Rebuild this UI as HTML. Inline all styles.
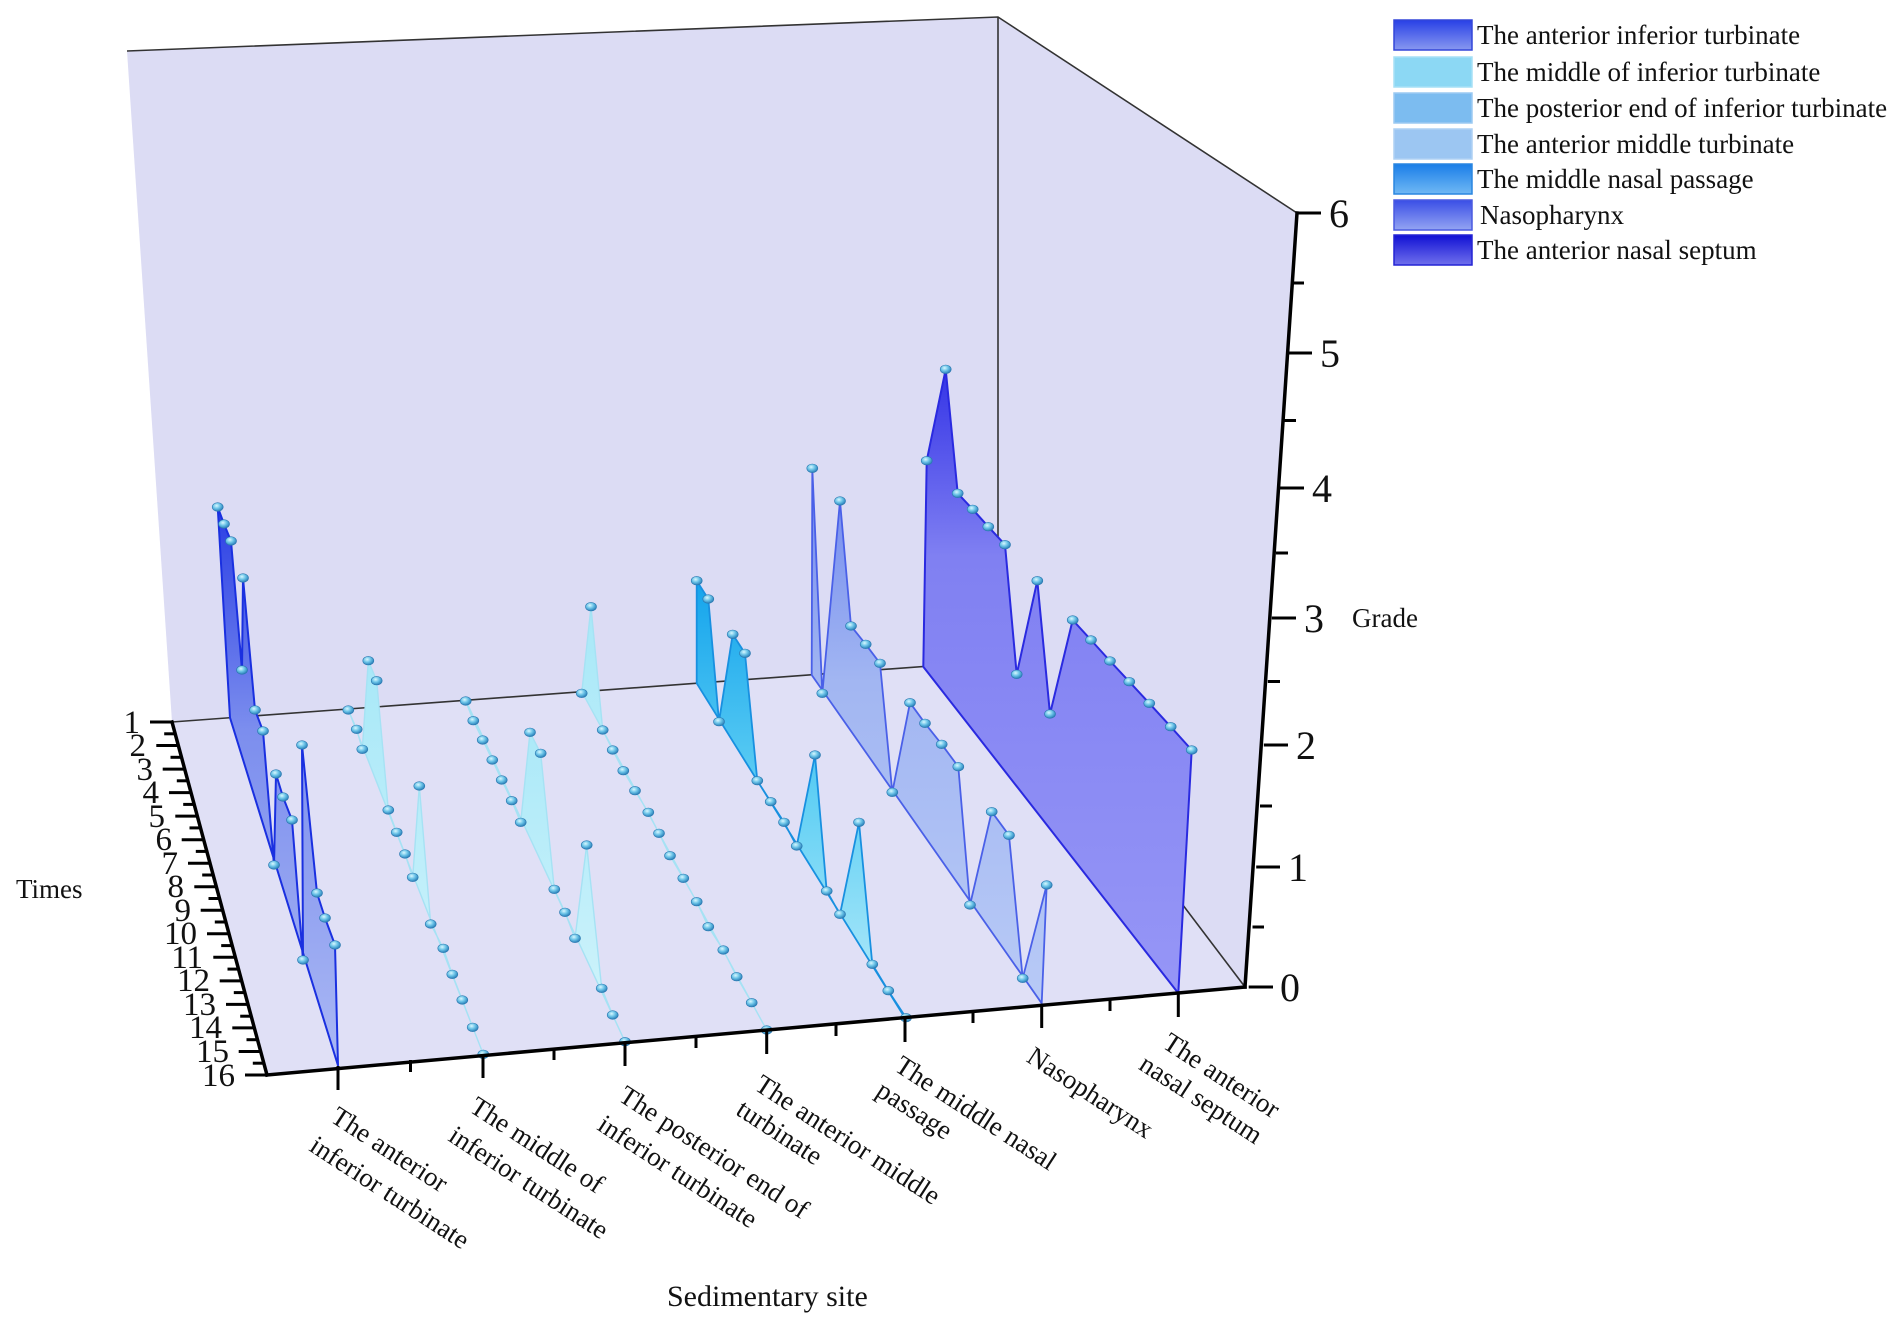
<!DOCTYPE html>
<html><head><meta charset="utf-8"><style>
html,body{margin:0;padding:0;background:#fff;}
svg{display:block;font-family:"Liberation Serif",serif;}
</style></head><body>
<svg width="1902" height="1325" viewBox="0 0 1902 1325" xmlns="http://www.w3.org/2000/svg">
<defs>
<radialGradient id="ball" cx="40%" cy="35%" r="65%"><stop offset="0" stop-color="#d8f8ff"/><stop offset="0.5" stop-color="#6cc4e8"/><stop offset="1" stop-color="#2a7fb8"/></radialGradient>
<linearGradient id="g1" x1="0" y1="0" x2="0" y2="1"><stop offset="0" stop-color="#2a3ee4"/><stop offset="0.4" stop-color="#7c8eee"/><stop offset="1" stop-color="#aab8f4"/></linearGradient>
<linearGradient id="g2" x1="0" y1="0" x2="0" y2="1"><stop offset="0" stop-color="#a8e8f8"/><stop offset="1" stop-color="#d2f4fb"/></linearGradient>
<linearGradient id="g5" x1="0" y1="0" x2="0" y2="1"><stop offset="0" stop-color="#14a4ec"/><stop offset="0.5" stop-color="#62d0f4"/><stop offset="1" stop-color="#b8ecfa"/></linearGradient>
<linearGradient id="g6" x1="0" y1="0" x2="0" y2="1"><stop offset="0" stop-color="#7088ee"/><stop offset="0.4" stop-color="#a2b6f2"/><stop offset="1" stop-color="#b8caf6"/></linearGradient>
<linearGradient id="g7" x1="0" y1="0" x2="0" y2="1"><stop offset="0" stop-color="#3434e6"/><stop offset="0.3" stop-color="#8080f2"/><stop offset="1" stop-color="#9696f6"/></linearGradient>
<linearGradient id="l1" x1="0" y1="0" x2="0" y2="1"><stop offset="0" stop-color="#2840e6"/><stop offset="1" stop-color="#8898f0"/></linearGradient>
<linearGradient id="l5" x1="0" y1="0" x2="0" y2="1"><stop offset="0" stop-color="#1a7ee8"/><stop offset="1" stop-color="#70b8f4"/></linearGradient>
<linearGradient id="l6" x1="0" y1="0" x2="0" y2="1"><stop offset="0" stop-color="#3a4ee6"/><stop offset="1" stop-color="#94a4f2"/></linearGradient>
<linearGradient id="l7" x1="0" y1="0" x2="0" y2="1"><stop offset="0" stop-color="#1010d4"/><stop offset="1" stop-color="#7070ec"/></linearGradient>
</defs>

<polygon points="127,51 998,17 998,661 172,722" fill="#dcdcf4"/>
<polygon points="998,17 1297,213 1245,987 998,661" fill="#dcdcf4"/>
<polygon points="172,722 998,661 1245,987 267,1075" fill="#e0e0f6"/>
<g stroke="#333" stroke-width="1.6" fill="none">
<polyline points="127,51 998,17 1297,213"/>
<line x1="998" y1="17" x2="998" y2="661"/>
<line x1="172" y1="722" x2="998" y2="661"/>
<line x1="998" y1="661" x2="1245" y2="987"/>
</g>

<g stroke="#2a2ae0" stroke-width="2" stroke-linejoin="round">
<polygon fill="url(#g7)" points="923.3,666.7 926.7,460.7 945.7,369.3 957.7,493.3 972.7,509.3 988.3,526.7 1005,544.7 1016.7,674.3 1037.3,580.7 1050,714 1072.7,620 1091,640 1110,661 1129.3,681.7 1149.3,703.3 1170.7,726.7 1191.7,750 1178.3,993.3"/>
</g>
<g stroke="#4a60e8" stroke-width="1.8" stroke-linejoin="round">
<polygon fill="url(#g6)" points="811.7,675 812.3,468.3 822.3,693.3 840,501 851,626 865.7,644.3 880,663.3 892.3,792.3 910,702.7 925,723.3 941.7,744.3 958.3,766.7 970,905 991.7,811.7 1009,835.3 1022.7,978.3 1046.7,885 1041.7,1003.3"/>
</g>
<g stroke="#1890e0" stroke-width="1.8" stroke-linejoin="round">
<polygon fill="url(#g5)" points="696.7,683.3 696.7,580.7 708.3,599 719,721.7 732.7,634.3 745,653.3 757.3,780.7 770.7,801.7 784,822.3 796.7,846 815,755 826.7,891 840,914.3 859,822.3 872.3,964.3 888.3,990.7 906,1017.7 905,1018"/>
</g>
<g stroke="#a6e2f4" stroke-width="1.4" stroke-linejoin="round">
<polygon fill="url(#g2)" points="581.7,691.6 581.7,693.3 591,606.7 602.7,730 612.7,750 623.3,770.7 635,790.7 648.3,812.3 659,833.3 670,855.7 683.3,878.3 696.7,901.7 708.3,926.7 723.3,950 736.7,976.7 751.7,1002.7 766.7,1030"/>
</g>
<g stroke="#a6e2f4" stroke-width="1.4" stroke-linejoin="round">
<polygon fill="url(#g2)" points="465.7,700.2 465.7,701 473.3,720.7 482.7,740 492.3,760 501.7,780 511.7,800.7 520.7,822.3 530,732.3 540.7,753.3 554.3,889.3 565,912.3 575,938.3 586.7,845 601.7,988.3 612.7,1015 625,1041.7"/>
</g>
<g stroke="#a6e2f4" stroke-width="1.4" stroke-linejoin="round">
<polygon fill="url(#g2)" points="348,709 348.3,710 356.7,729.3 362.3,749.3 368.3,660.7 376.7,680.7 388.3,810 396.7,832.3 405,854 412.7,877.3 419.3,786 430.7,924 443.3,948.3 452.3,974.3 462.3,1000 472.7,1027.3 483.3,1054.3"/>
</g>
<g stroke="#1a30e0" stroke-width="2" stroke-linejoin="round">
<polygon fill="url(#g1)" points="230,717.7 217.7,507 224,524 231,541 242,670 243,578 255,710 263,731 274,865 276,774 283,797 292,820 303,960 302,745 317,893 325,918 335,945 338,1065.5"/>
</g>

<g fill="url(#ball)" stroke="#2a78b0" stroke-width="0.6">
<ellipse cx="926.7" cy="460.7" rx="5.5" ry="4.3"/><ellipse cx="945.7" cy="369.3" rx="5.5" ry="4.3"/><ellipse cx="957.7" cy="493.3" rx="5.5" ry="4.3"/><ellipse cx="972.7" cy="509.3" rx="5.5" ry="4.3"/><ellipse cx="988.3" cy="526.7" rx="5.5" ry="4.3"/><ellipse cx="1005" cy="544.7" rx="5.5" ry="4.3"/><ellipse cx="1016.7" cy="674.3" rx="5.5" ry="4.3"/><ellipse cx="1037.3" cy="580.7" rx="5.5" ry="4.3"/><ellipse cx="1050" cy="714" rx="5.5" ry="4.3"/><ellipse cx="1072.7" cy="620" rx="5.5" ry="4.3"/><ellipse cx="1091" cy="640" rx="5.5" ry="4.3"/><ellipse cx="1110" cy="661" rx="5.5" ry="4.3"/><ellipse cx="1129.3" cy="681.7" rx="5.5" ry="4.3"/><ellipse cx="1149.3" cy="703.3" rx="5.5" ry="4.3"/><ellipse cx="1170.7" cy="726.7" rx="5.5" ry="4.3"/><ellipse cx="1191.7" cy="750" rx="5.5" ry="4.3"/>
<ellipse cx="812.3" cy="468.3" rx="5.5" ry="4.3"/><ellipse cx="822.3" cy="693.3" rx="5.5" ry="4.3"/><ellipse cx="840" cy="501" rx="5.5" ry="4.3"/><ellipse cx="851" cy="626" rx="5.5" ry="4.3"/><ellipse cx="865.7" cy="644.3" rx="5.5" ry="4.3"/><ellipse cx="880" cy="663.3" rx="5.5" ry="4.3"/><ellipse cx="892.3" cy="792.3" rx="5.5" ry="4.3"/><ellipse cx="910" cy="702.7" rx="5.5" ry="4.3"/><ellipse cx="925" cy="723.3" rx="5.5" ry="4.3"/><ellipse cx="941.7" cy="744.3" rx="5.5" ry="4.3"/><ellipse cx="958.3" cy="766.7" rx="5.5" ry="4.3"/><ellipse cx="970" cy="905" rx="5.5" ry="4.3"/><ellipse cx="991.7" cy="811.7" rx="5.5" ry="4.3"/><ellipse cx="1009" cy="835.3" rx="5.5" ry="4.3"/><ellipse cx="1022.7" cy="978.3" rx="5.5" ry="4.3"/><ellipse cx="1046.7" cy="885" rx="5.5" ry="4.3"/>
<ellipse cx="696.7" cy="580.7" rx="5.5" ry="4.3"/><ellipse cx="708.3" cy="599" rx="5.5" ry="4.3"/><ellipse cx="719" cy="721.7" rx="5.5" ry="4.3"/><ellipse cx="732.7" cy="634.3" rx="5.5" ry="4.3"/><ellipse cx="745" cy="653.3" rx="5.5" ry="4.3"/><ellipse cx="757.3" cy="780.7" rx="5.5" ry="4.3"/><ellipse cx="770.7" cy="801.7" rx="5.5" ry="4.3"/><ellipse cx="784" cy="822.3" rx="5.5" ry="4.3"/><ellipse cx="796.7" cy="846" rx="5.5" ry="4.3"/><ellipse cx="815" cy="755" rx="5.5" ry="4.3"/><ellipse cx="826.7" cy="891" rx="5.5" ry="4.3"/><ellipse cx="840" cy="914.3" rx="5.5" ry="4.3"/><ellipse cx="859" cy="822.3" rx="5.5" ry="4.3"/><ellipse cx="872.3" cy="964.3" rx="5.5" ry="4.3"/><ellipse cx="888.3" cy="990.7" rx="5.5" ry="4.3"/><ellipse cx="906" cy="1017.7" rx="5.5" ry="4.3"/>
<ellipse cx="581.7" cy="693.3" rx="5.5" ry="4.3"/><ellipse cx="591" cy="606.7" rx="5.5" ry="4.3"/><ellipse cx="602.7" cy="730" rx="5.5" ry="4.3"/><ellipse cx="612.7" cy="750" rx="5.5" ry="4.3"/><ellipse cx="623.3" cy="770.7" rx="5.5" ry="4.3"/><ellipse cx="635" cy="790.7" rx="5.5" ry="4.3"/><ellipse cx="648.3" cy="812.3" rx="5.5" ry="4.3"/><ellipse cx="659" cy="833.3" rx="5.5" ry="4.3"/><ellipse cx="670" cy="855.7" rx="5.5" ry="4.3"/><ellipse cx="683.3" cy="878.3" rx="5.5" ry="4.3"/><ellipse cx="696.7" cy="901.7" rx="5.5" ry="4.3"/><ellipse cx="708.3" cy="926.7" rx="5.5" ry="4.3"/><ellipse cx="723.3" cy="950" rx="5.5" ry="4.3"/><ellipse cx="736.7" cy="976.7" rx="5.5" ry="4.3"/><ellipse cx="751.7" cy="1002.7" rx="5.5" ry="4.3"/><ellipse cx="766.7" cy="1030" rx="5.5" ry="4.3"/>
<ellipse cx="465.7" cy="701" rx="5.5" ry="4.3"/><ellipse cx="473.3" cy="720.7" rx="5.5" ry="4.3"/><ellipse cx="482.7" cy="740" rx="5.5" ry="4.3"/><ellipse cx="492.3" cy="760" rx="5.5" ry="4.3"/><ellipse cx="501.7" cy="780" rx="5.5" ry="4.3"/><ellipse cx="511.7" cy="800.7" rx="5.5" ry="4.3"/><ellipse cx="520.7" cy="822.3" rx="5.5" ry="4.3"/><ellipse cx="530" cy="732.3" rx="5.5" ry="4.3"/><ellipse cx="540.7" cy="753.3" rx="5.5" ry="4.3"/><ellipse cx="554.3" cy="889.3" rx="5.5" ry="4.3"/><ellipse cx="565" cy="912.3" rx="5.5" ry="4.3"/><ellipse cx="575" cy="938.3" rx="5.5" ry="4.3"/><ellipse cx="586.7" cy="845" rx="5.5" ry="4.3"/><ellipse cx="601.7" cy="988.3" rx="5.5" ry="4.3"/><ellipse cx="612.7" cy="1015" rx="5.5" ry="4.3"/><ellipse cx="625" cy="1041.7" rx="5.5" ry="4.3"/>
<ellipse cx="348.3" cy="710" rx="5.5" ry="4.3"/><ellipse cx="356.7" cy="729.3" rx="5.5" ry="4.3"/><ellipse cx="362.3" cy="749.3" rx="5.5" ry="4.3"/><ellipse cx="368.3" cy="660.7" rx="5.5" ry="4.3"/><ellipse cx="376.7" cy="680.7" rx="5.5" ry="4.3"/><ellipse cx="388.3" cy="810" rx="5.5" ry="4.3"/><ellipse cx="396.7" cy="832.3" rx="5.5" ry="4.3"/><ellipse cx="405" cy="854" rx="5.5" ry="4.3"/><ellipse cx="412.7" cy="877.3" rx="5.5" ry="4.3"/><ellipse cx="419.3" cy="786" rx="5.5" ry="4.3"/><ellipse cx="430.7" cy="924" rx="5.5" ry="4.3"/><ellipse cx="443.3" cy="948.3" rx="5.5" ry="4.3"/><ellipse cx="452.3" cy="974.3" rx="5.5" ry="4.3"/><ellipse cx="462.3" cy="1000" rx="5.5" ry="4.3"/><ellipse cx="472.7" cy="1027.3" rx="5.5" ry="4.3"/><ellipse cx="483.3" cy="1054.3" rx="5.5" ry="4.3"/>
<ellipse cx="217.7" cy="507" rx="5.5" ry="4.3"/><ellipse cx="224" cy="524" rx="5.5" ry="4.3"/><ellipse cx="231" cy="541" rx="5.5" ry="4.3"/><ellipse cx="242" cy="670" rx="5.5" ry="4.3"/><ellipse cx="243" cy="578" rx="5.5" ry="4.3"/><ellipse cx="255" cy="710" rx="5.5" ry="4.3"/><ellipse cx="263" cy="731" rx="5.5" ry="4.3"/><ellipse cx="274" cy="865" rx="5.5" ry="4.3"/><ellipse cx="276" cy="774" rx="5.5" ry="4.3"/><ellipse cx="283" cy="797" rx="5.5" ry="4.3"/><ellipse cx="292" cy="820" rx="5.5" ry="4.3"/><ellipse cx="303" cy="960" rx="5.5" ry="4.3"/><ellipse cx="302" cy="745" rx="5.5" ry="4.3"/><ellipse cx="317" cy="893" rx="5.5" ry="4.3"/><ellipse cx="325" cy="918" rx="5.5" ry="4.3"/><ellipse cx="335" cy="945" rx="5.5" ry="4.3"/>
</g>

<g stroke="#000" stroke-width="3.5" fill="none" stroke-linecap="square">
<line x1="172" y1="722" x2="267" y2="1075"/>
<line x1="267" y1="1075" x2="1245" y2="987"/>
<line x1="1245" y1="987" x2="1297" y2="213"/>
</g>
<g stroke="#000" stroke-width="3">
<line x1="172" y1="722" x2="150" y2="722"/><line x1="178.3" y1="745.5" x2="156.3" y2="745.5"/><line x1="184.7" y1="769.1" x2="162.7" y2="769.1"/><line x1="191" y1="792.6" x2="169" y2="792.6"/><line x1="197.3" y1="816.1" x2="175.3" y2="816.1"/><line x1="203.7" y1="839.7" x2="181.7" y2="839.7"/><line x1="210" y1="863.2" x2="188" y2="863.2"/><line x1="216.3" y1="886.7" x2="194.3" y2="886.7"/><line x1="222.7" y1="910.3" x2="200.7" y2="910.3"/><line x1="229" y1="933.8" x2="207" y2="933.8"/><line x1="235.3" y1="957.3" x2="213.3" y2="957.3"/><line x1="241.7" y1="980.9" x2="219.7" y2="980.9"/><line x1="248" y1="1004.4" x2="226" y2="1004.4"/><line x1="254.3" y1="1027.9" x2="232.3" y2="1027.9"/><line x1="260.7" y1="1051.5" x2="238.7" y2="1051.5"/><line x1="267" y1="1075" x2="245" y2="1075"/>
<line x1="175.2" y1="733.8" x2="164.2" y2="733.8"/><line x1="181.5" y1="757.3" x2="170.5" y2="757.3"/><line x1="187.8" y1="780.8" x2="176.8" y2="780.8"/><line x1="194.2" y1="804.4" x2="183.2" y2="804.4"/><line x1="200.5" y1="827.9" x2="189.5" y2="827.9"/><line x1="206.8" y1="851.4" x2="195.8" y2="851.4"/><line x1="213.2" y1="875" x2="202.2" y2="875"/><line x1="219.5" y1="898.5" x2="208.5" y2="898.5"/><line x1="225.8" y1="922" x2="214.8" y2="922"/><line x1="232.2" y1="945.6" x2="221.2" y2="945.6"/><line x1="238.5" y1="969.1" x2="227.5" y2="969.1"/><line x1="244.8" y1="992.6" x2="233.8" y2="992.6"/><line x1="251.2" y1="1016.2" x2="240.2" y2="1016.2"/><line x1="257.5" y1="1039.7" x2="246.5" y2="1039.7"/><line x1="263.8" y1="1063.2" x2="252.8" y2="1063.2"/>
</g>
<g font-size="33" text-anchor="end" fill="#111">
<text x="140" y="733">1</text><text x="146" y="756">2</text><text x="153" y="780">3</text><text x="159" y="803">4</text><text x="165" y="827">5</text><text x="172" y="850">6</text><text x="178" y="874">7</text><text x="184" y="897">8</text><text x="191" y="921">9</text><text x="197" y="944">10</text><text x="203" y="968">11</text><text x="210" y="991">12</text><text x="216" y="1015">13</text><text x="222" y="1038">14</text><text x="229" y="1062">15</text><text x="235" y="1086">16</text>
</g>
<text x="16" y="898" font-size="27" fill="#111">Times</text>

<g stroke="#000" stroke-width="3">
<line x1="338" y1="1066" x2="338" y2="1090"/><line x1="483" y1="1054" x2="483" y2="1078"/><line x1="625" y1="1042" x2="625" y2="1066"/><line x1="766.7" y1="1030" x2="766.7" y2="1054"/><line x1="905" y1="1018" x2="905" y2="1042"/><line x1="1041.7" y1="1004" x2="1041.7" y2="1028"/><line x1="1178.3" y1="993" x2="1178.3" y2="1017"/>
<line x1="410.5" y1="1060" x2="410.5" y2="1072"/><line x1="554" y1="1048" x2="554" y2="1060"/><line x1="696" y1="1036" x2="696" y2="1048"/><line x1="836" y1="1024" x2="836" y2="1036"/><line x1="973" y1="1011" x2="973" y2="1023"/><line x1="1110" y1="999" x2="1110" y2="1011"/>
</g>
<g font-size="27" fill="#111">
<g transform="translate(340,1104) rotate(33)"><text x="0" y="20">The anterior</text><text x="-2" y="56">inferior turbinate</text></g>
<g transform="translate(479,1094) rotate(33)"><text x="0" y="20">The middle of</text><text x="-2" y="56">inferior turbinate</text></g>
<g transform="translate(628,1083) rotate(33)"><text x="0" y="20">The posterior end of</text><text x="-2" y="56">inferior turbinate</text></g>
<g transform="translate(764,1072) rotate(33)"><text x="0" y="20">The anterior middle</text><text x="-2" y="51">turbinate</text></g>
<g transform="translate(904,1053) rotate(33)"><text x="0" y="20">The middle nasal</text><text x="-2" y="51">passage</text></g>
<g transform="translate(1036,1044) rotate(33)"><text x="0" y="20">Nasopharynx</text></g>
<g transform="translate(1172,1030) rotate(33)"><text x="0" y="20">The anterior</text><text x="-8" y="51">nasal septum</text></g>
</g>
<text x="667" y="1306" font-size="30" fill="#111">Sedimentary site</text>

<g stroke="#000" stroke-width="3">
<line x1="1248.7" y1="987" x2="1273" y2="987"/><line x1="1256.2" y1="867" x2="1280" y2="867"/><line x1="1263.8" y1="745" x2="1288" y2="745"/><line x1="1271.8" y1="618" x2="1296" y2="618"/><line x1="1279.9" y1="488" x2="1304" y2="488"/><line x1="1288.3" y1="353" x2="1312" y2="353"/><line x1="1297" y1="213" x2="1321" y2="213"/>
<line x1="1252.5" y1="927" x2="1264" y2="927"/><line x1="1260" y1="806" x2="1272" y2="806"/><line x1="1267.8" y1="681.5" x2="1280" y2="681.5"/><line x1="1275.9" y1="553" x2="1288" y2="553"/><line x1="1284.2" y1="420.5" x2="1296" y2="420.5"/><line x1="1292.6" y1="283" x2="1304" y2="283"/>
</g>
<g font-size="40" fill="#111">
<text x="1280" y="1001">0</text><text x="1288" y="881">1</text><text x="1296" y="759">2</text><text x="1304" y="632">3</text><text x="1312" y="502">4</text><text x="1320" y="367">5</text><text x="1329" y="227">6</text>
</g>
<text x="1352" y="627" font-size="27" fill="#111">Grade</text>

<g stroke-width="1.5">
<rect x="1394" y="20" width="78" height="30" fill="url(#l1)" stroke="#3346d8"/>
<rect x="1394" y="57" width="78" height="30" fill="#8cd8f4" stroke="#a6e0f6"/>
<rect x="1394" y="93" width="78" height="30" fill="#7cbcf0" stroke="#9ccaf2"/>
<rect x="1394" y="129" width="78" height="30" fill="#9cc6f2" stroke="#aed0f4"/>
<rect x="1394" y="164" width="78" height="30" fill="url(#l5)" stroke="#2a86e0"/>
<rect x="1394" y="200" width="78" height="30" fill="url(#l6)" stroke="#4a5ae0"/>
<rect x="1394" y="235" width="78" height="30" fill="url(#l7)" stroke="#2424d4"/>
</g>
<g font-size="27" fill="#111">
<text x="1477" y="44">The anterior inferior turbinate</text>
<text x="1477" y="81">The middle of inferior turbinate</text>
<text x="1477" y="117">The posterior end of inferior turbinate</text>
<text x="1477" y="153">The anterior middle turbinate</text>
<text x="1477" y="188">The middle nasal passage</text>
<text x="1480" y="224">Nasopharynx</text>
<text x="1477" y="259">The anterior nasal septum</text>
</g>
</svg>
</body></html>
